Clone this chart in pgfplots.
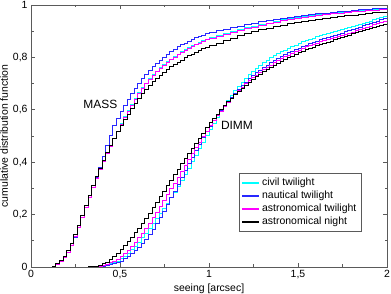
\documentclass[border=0pt]{standalone}
\usepackage{pgfplots}
\pgfplotsset{compat=1.18}
\usepackage{pgfplotstable}
\usepackage{fontspec}
\setmainfont{Liberation Sans}

\pgfplotstableread{
x civ nau ast nig
0.10 0.000 0.000 0.000 0.000
0.12 0.003 0.003 0.003 0.004
0.14 0.010 0.010 0.010 0.012
0.16 0.021 0.021 0.021 0.025
0.18 0.037 0.036 0.037 0.042
0.20 0.057 0.055 0.057 0.063
0.22 0.083 0.081 0.083 0.090
0.24 0.115 0.114 0.115 0.123
0.26 0.152 0.151 0.152 0.160
0.28 0.191 0.190 0.191 0.198
0.30 0.229 0.228 0.229 0.236
0.32 0.267 0.266 0.267 0.274
0.34 0.304 0.303 0.304 0.310
0.36 0.339 0.340 0.339 0.344
0.38 0.372 0.381 0.372 0.376
0.40 0.403 0.421 0.403 0.406
0.42 0.433 0.464 0.433 0.436
0.44 0.461 0.504 0.461 0.464
0.46 0.489 0.539 0.489 0.491
0.48 0.517 0.568 0.517 0.516
0.50 0.547 0.594 0.544 0.540
0.52 0.573 0.617 0.570 0.562
0.54 0.598 0.638 0.595 0.583
0.56 0.621 0.661 0.618 0.606
0.58 0.643 0.682 0.640 0.626
0.60 0.665 0.701 0.662 0.645
0.62 0.684 0.719 0.681 0.662
0.64 0.702 0.736 0.699 0.678
0.66 0.719 0.751 0.716 0.693
0.68 0.734 0.765 0.731 0.707
0.70 0.748 0.778 0.745 0.720
0.72 0.761 0.790 0.758 0.732
0.74 0.773 0.801 0.770 0.743
0.76 0.784 0.812 0.781 0.754
0.78 0.794 0.822 0.791 0.764
0.80 0.804 0.831 0.801 0.773
0.82 0.813 0.840 0.810 0.782
0.84 0.821 0.848 0.818 0.790
0.86 0.829 0.855 0.826 0.798
0.88 0.837 0.862 0.834 0.806
0.90 0.844 0.869 0.841 0.813
0.92 0.851 0.875 0.848 0.820
0.94 0.858 0.880 0.855 0.827
0.96 0.864 0.885 0.861 0.833
0.98 0.870 0.890 0.867 0.839
1.00 0.875 0.894 0.872 0.845
1.04 0.884 0.901 0.881 0.855
1.08 0.892 0.908 0.889 0.865
1.12 0.900 0.914 0.897 0.874
1.16 0.907 0.920 0.904 0.883
1.20 0.913 0.926 0.910 0.891
1.24 0.919 0.931 0.916 0.898
1.28 0.925 0.936 0.922 0.905
1.32 0.931 0.941 0.928 0.911
1.36 0.936 0.945 0.933 0.917
1.40 0.943 0.949 0.940 0.923
1.44 0.947 0.953 0.944 0.928
1.48 0.951 0.957 0.948 0.933
1.52 0.955 0.960 0.952 0.938
1.56 0.959 0.963 0.956 0.942
1.60 0.963 0.966 0.960 0.946
1.64 0.966 0.969 0.963 0.950
1.68 0.969 0.971 0.966 0.953
1.72 0.972 0.974 0.969 0.956
1.76 0.975 0.976 0.972 0.959
1.80 0.977 0.980 0.974 0.962
1.84 0.979 0.982 0.976 0.965
1.88 0.981 0.984 0.978 0.968
1.92 0.983 0.986 0.980 0.970
1.96 0.985 0.988 0.982 0.972
2.00 0.987 0.990 0.984 0.974
}\mass

\pgfplotstableread{
x civ nau ast nig
0.30 0.000 0.000 0.000 0.000
0.32 0.000 0.000 0.000 0.001
0.34 0.000 0.000 0.000 0.002
0.36 0.001 0.000 0.002 0.004
0.38 0.003 0.001 0.004 0.006
0.40 0.005 0.003 0.007 0.012
0.42 0.008 0.005 0.011 0.019
0.44 0.012 0.008 0.016 0.028
0.46 0.017 0.012 0.022 0.039
0.48 0.023 0.017 0.030 0.052
0.50 0.031 0.023 0.039 0.066
0.52 0.041 0.031 0.050 0.081
0.54 0.053 0.040 0.063 0.097
0.56 0.066 0.051 0.078 0.113
0.58 0.080 0.063 0.094 0.130
0.60 0.095 0.076 0.111 0.148
0.62 0.111 0.091 0.129 0.167
0.64 0.128 0.107 0.148 0.186
0.66 0.146 0.125 0.168 0.206
0.68 0.165 0.145 0.189 0.227
0.70 0.184 0.166 0.210 0.248
0.72 0.204 0.189 0.232 0.269
0.74 0.224 0.213 0.254 0.290
0.76 0.244 0.238 0.276 0.311
0.78 0.265 0.264 0.298 0.332
0.80 0.286 0.290 0.320 0.353
0.82 0.308 0.316 0.343 0.374
0.84 0.330 0.342 0.366 0.394
0.86 0.353 0.368 0.389 0.414
0.88 0.377 0.394 0.412 0.434
0.90 0.401 0.420 0.434 0.454
0.92 0.426 0.445 0.456 0.473
0.94 0.451 0.469 0.477 0.492
0.96 0.476 0.493 0.498 0.511
0.98 0.501 0.516 0.519 0.531
1.00 0.525 0.538 0.539 0.550
1.02 0.549 0.559 0.558 0.567
1.04 0.572 0.579 0.577 0.584
1.06 0.594 0.598 0.595 0.600
1.08 0.615 0.616 0.612 0.615
1.10 0.635 0.633 0.628 0.630
1.12 0.654 0.649 0.644 0.644
1.14 0.672 0.664 0.659 0.657
1.16 0.689 0.679 0.673 0.670
1.18 0.705 0.693 0.686 0.682
1.20 0.720 0.706 0.699 0.694
1.22 0.734 0.718 0.711 0.705
1.24 0.747 0.730 0.722 0.716
1.26 0.759 0.741 0.733 0.726
1.28 0.770 0.751 0.743 0.736
1.30 0.780 0.761 0.753 0.745
1.32 0.789 0.770 0.762 0.754
1.34 0.798 0.779 0.771 0.762
1.36 0.806 0.787 0.779 0.770
1.38 0.814 0.795 0.787 0.778
1.40 0.821 0.803 0.795 0.785
1.42 0.828 0.810 0.802 0.792
1.44 0.835 0.817 0.809 0.799
1.46 0.841 0.823 0.816 0.805
1.48 0.847 0.829 0.822 0.811
1.50 0.853 0.835 0.828 0.817
1.52 0.859 0.841 0.834 0.823
1.54 0.864 0.847 0.840 0.829
1.56 0.869 0.852 0.845 0.834
1.58 0.874 0.857 0.850 0.839
1.60 0.879 0.862 0.855 0.844
1.62 0.883 0.867 0.860 0.849
1.64 0.887 0.872 0.865 0.854
1.66 0.891 0.876 0.869 0.858
1.68 0.895 0.880 0.873 0.862
1.70 0.899 0.884 0.877 0.867
1.72 0.903 0.889 0.881 0.872
1.74 0.907 0.893 0.885 0.876
1.76 0.911 0.898 0.889 0.881
1.78 0.915 0.902 0.893 0.885
1.80 0.919 0.907 0.897 0.890
1.82 0.923 0.912 0.902 0.894
1.84 0.927 0.916 0.906 0.898
1.86 0.931 0.921 0.911 0.902
1.88 0.935 0.925 0.915 0.906
1.90 0.939 0.930 0.920 0.910
1.92 0.943 0.934 0.924 0.914
1.94 0.947 0.939 0.929 0.918
1.96 0.951 0.943 0.933 0.922
1.98 0.955 0.948 0.938 0.926
2.00 0.959 0.952 0.942 0.930
}\dimm

\definecolor{cciv}{RGB}{0,255,255}
\definecolor{cnau}{RGB}{40,40,255}
\definecolor{cast}{RGB}{255,0,255}
\definecolor{cnig}{RGB}{0,0,0}
\definecolor{axgray}{RGB}{90,90,90}

\begin{document}
\begin{tikzpicture}
\begin{axis}[
  at={(0,0)}, anchor=south west,
  scale only axis, width=356bp, height=262bp,
  xmin=0, xmax=2, ymin=0, ymax=1,
  xtick={0,0.5,1,1.5,2}, ytick={0,0.2,0.4,0.6,0.8,1},
  minor x tick num=1, minor y tick num=1,
  tick align=inside, major tick length=4bp, minor tick length=2.5bp,
  axis line style={axgray, line width=0.8bp},
  every tick/.style={axgray, line width=0.6bp},
  /pgf/number format/use comma,
  /pgf/number format/assume math mode=true,
  ticklabel style={font=\fontsize{10.5}{12}\selectfont},
  label style={font=\fontsize{10.5}{12}\selectfont},
  xlabel={seeing [arcsec]},
  ylabel={cumulative distribution function},
  xlabel style={yshift=2bp},
  ylabel style={yshift=-2bp},
  legend style={at={(0.927,0.137)}, anchor=south east,
    font=\fontsize{10.5}{12}\selectfont, draw=axgray,
    inner sep=2.5bp},
  legend cell align=left,
  legend image post style={line width=1.8bp},
]
\addplot[color=cciv, line width=0.9bp, const plot] table[x=x, y=civ]{\mass};
\addlegendentry{civil twilight}
\addplot[color=cnau, line width=0.9bp, const plot] table[x=x, y=nau]{\mass};
\addlegendentry{nautical twilight}
\addplot[color=cast, line width=0.9bp, const plot] table[x=x, y=ast]{\mass};
\addlegendentry{astronomical twilight}
\addplot[color=cnig, line width=0.9bp, const plot] table[x=x, y=nig]{\mass};
\addlegendentry{astronomical night}
\addplot[color=cciv, line width=0.9bp, const plot, forget plot] table[x=x, y=civ]{\dimm};
\addplot[color=cnau, line width=0.9bp, const plot, forget plot] table[x=x, y=nau]{\dimm};
\addplot[color=cast, line width=0.9bp, const plot, forget plot] table[x=x, y=ast]{\dimm};
\addplot[color=cnig, line width=0.9bp, const plot, forget plot] table[x=x, y=nig]{\dimm};
\node[font=\fontsize{12}{14}\selectfont] at (axis cs:0.39,0.622) {MASS};
\node[font=\fontsize{12}{14}\selectfont] at (axis cs:1.157,0.541) {DIMM};
\end{axis}
\pgfresetboundingbox
\path[use as bounding box] (-31bp,-27bp) rectangle (360bp,267bp);
\end{tikzpicture}
\end{document}
